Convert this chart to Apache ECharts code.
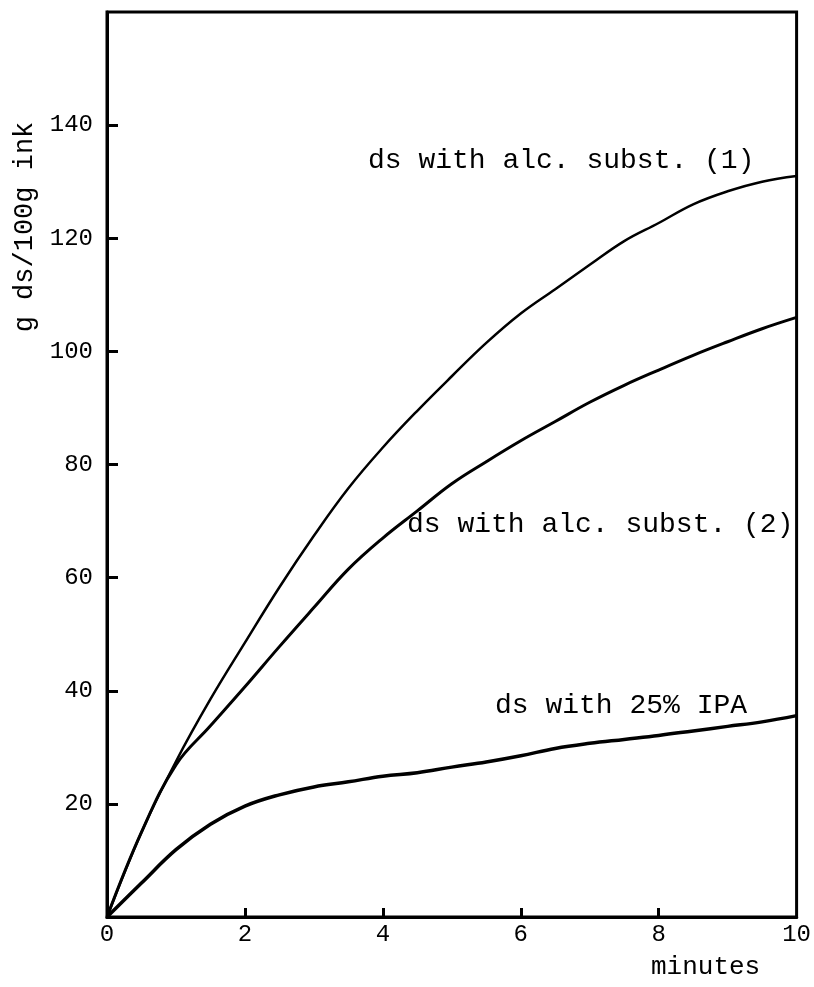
<!DOCTYPE html>
<html>
<head>
<meta charset="utf-8">
<script src="https://cdn.jsdelivr.net/npm/echarts@6/dist/echarts.min.js"></script>
<style>
  html, body { margin: 0; padding: 0; background: #fff; }
  #chart { width: 814px; height: 987px; }
</style>
</head>
<body>
<div id="chart"></div>
<script>
// minutes on the x axis
const minutes = [0, 0.5, 1, 1.5, 2, 2.5, 3, 3.5, 4, 4.5, 5, 5.5, 6, 6.5, 7, 7.5, 8, 8.5, 9, 9.5, 10];
// g ds / 100g ink
const alcSubst1 = [0, 15, 27.5, 38.5, 48.5, 58.3, 67.4, 75.8, 83, 89.5, 95.6, 101.5, 106.7, 111, 115.3, 119.5, 122.7, 126, 128.3, 130, 131];
const alcSubst2 = [0, 15, 26.9, 33.8, 40.7, 47.8, 54.7, 61.5, 67, 71.8, 76.6, 80.5, 84.2, 87.6, 91, 94, 96.7, 99.3, 101.7, 104, 106];
const ipa25 = [0, 6, 11.9, 16.4, 19.6, 21.6, 23, 23.9, 24.9, 25.5, 26.5, 27.4, 28.5, 29.8, 30.7, 31.4, 32.1, 32.9, 33.7, 34.5, 35.6];
const xTicks = [0, 2, 4, 6, 8, 10];
const yTicks = [20, 40, 60, 80, 100, 120, 140];

const mono = 'Liberation Mono';
const pairs = vals => minutes.map((m, i) => [m, vals[i]]);

const chart = echarts.init(document.getElementById('chart'));
chart.setOption({
  backgroundColor: '#fff',
  animation: false,
  grid: {
    left: 107, right: 12, top: 12, bottom: 70,
    show: true, borderColor: '#000', borderWidth: 3
  },
  xAxis: {
    type: 'value', min: 0, max: 10, interval: 2,
    axisLine: { lineStyle: { color: '#000', width: 3 } },
    // ticks only between the corners, pointing into the plot
    axisTick: { inside: true, length: 9, customValues: xTicks.slice(1, -1), lineStyle: { color: '#000', width: 3 } },
    axisLabel: { color: '#000', fontFamily: mono, fontSize: 24, margin: 6, customValues: xTicks },
    splitLine: { show: false }
  },
  yAxis: {
    type: 'value', min: 0, max: 160, interval: 20,
    axisLine: { lineStyle: { color: '#000', width: 3 } },
    axisTick: { inside: true, length: 11, customValues: yTicks, lineStyle: { color: '#000', width: 3 } },
    axisLabel: { color: '#000', fontFamily: mono, fontSize: 24, margin: 14, customValues: yTicks },
    splitLine: { show: false }
  },
  graphic: [
    { type: 'text', left: 368, top: 147, style: { text: 'ds with alc. subst. (1)', font: '28px "Liberation Mono"', fill: '#000' } },
    { type: 'text', left: 407, top: 511, style: { text: 'ds with alc. subst. (2)', font: '28px "Liberation Mono"', fill: '#000' } },
    { type: 'text', left: 495, top: 692, style: { text: 'ds with 25% IPA', font: '28px "Liberation Mono"', fill: '#000' } },
    { type: 'text', left: 651, top: 954, style: { text: 'minutes', font: '26px "Liberation Mono"', fill: '#000' } },
    {
      type: 'text', x: 25, y: 227, rotation: Math.PI / 2,
      style: { text: 'g ds/100g ink', font: '27px "Liberation Mono"', fill: '#000', align: 'center', verticalAlign: 'middle' }
    }
  ],
  series: [
    { name: 'ds with alc. subst. (1)', type: 'line', data: pairs(alcSubst1), smooth: 0.4, showSymbol: false, lineStyle: { color: '#000', width: 2.5 } },
    { name: 'ds with alc. subst. (2)', type: 'line', data: pairs(alcSubst2), smooth: 0.4, showSymbol: false, lineStyle: { color: '#000', width: 3 } },
    { name: 'ds with 25% IPA', type: 'line', data: pairs(ipa25), smooth: 0.4, showSymbol: false, lineStyle: { color: '#000', width: 3.5 } }
  ]
});
</script>
</body>
</html>
